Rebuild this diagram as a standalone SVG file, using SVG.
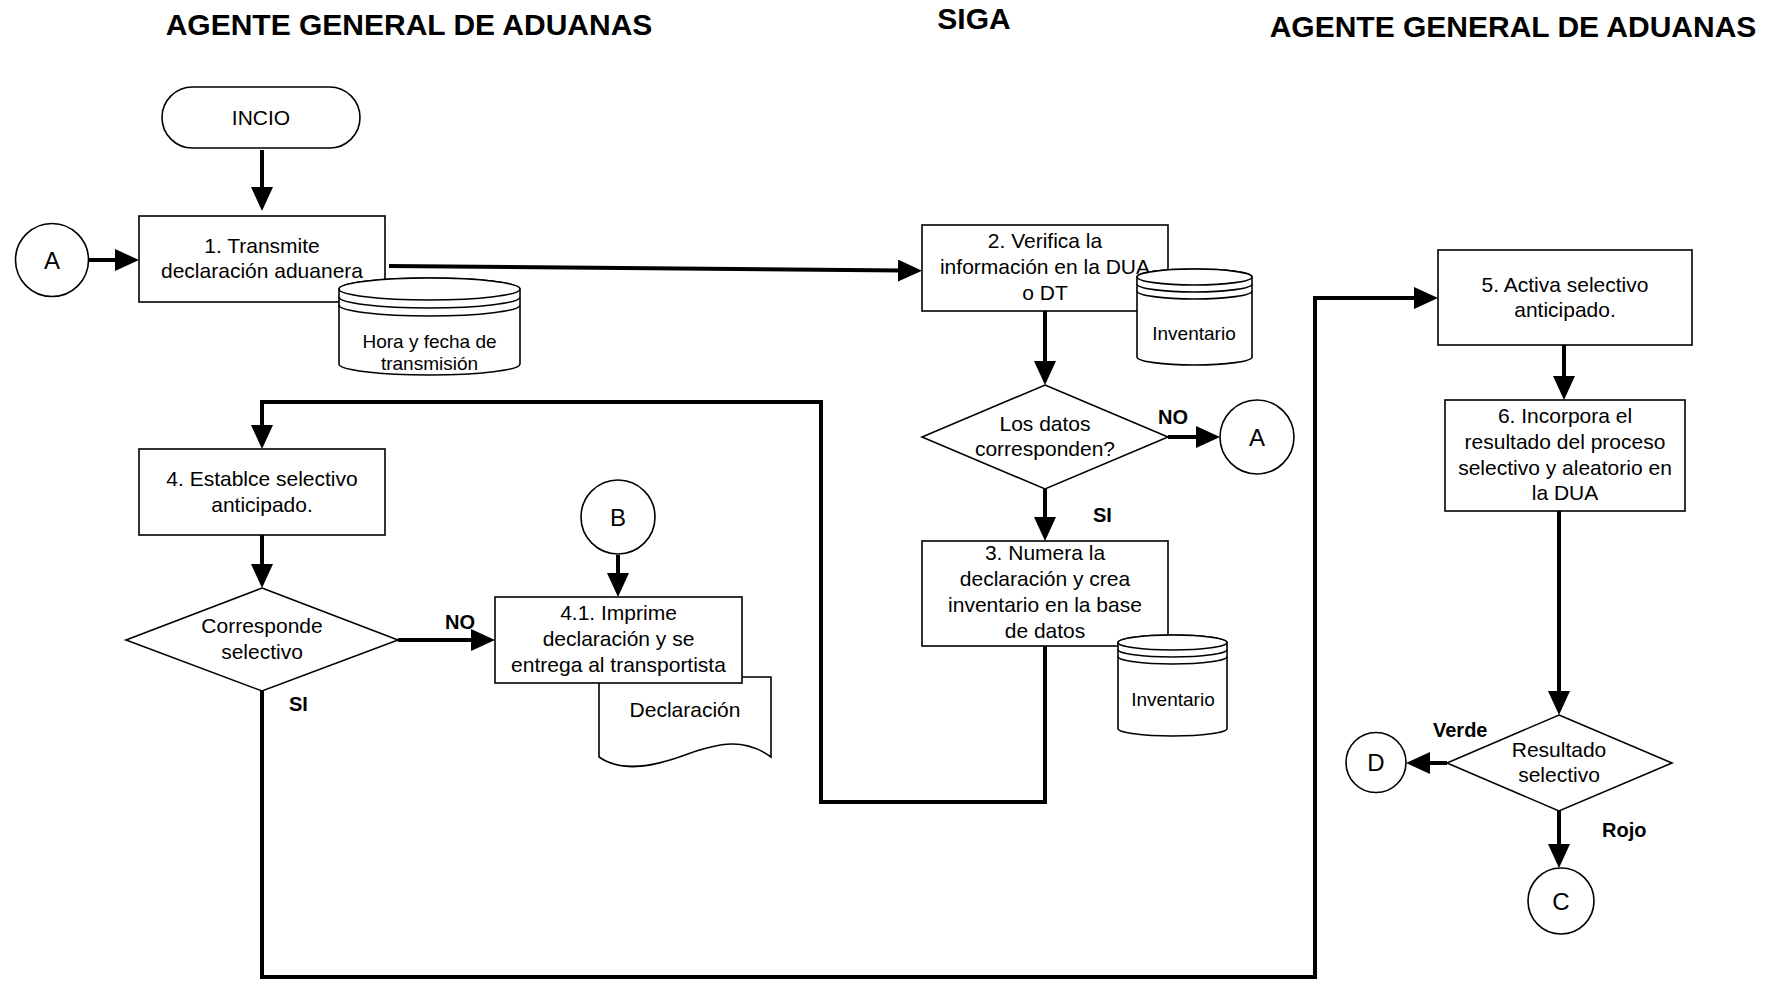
<svg xmlns="http://www.w3.org/2000/svg" width="1776" height="981" viewBox="0 0 1776 981">
<defs>
<style>
.shape{fill:#fff;stroke:#000;stroke-width:1.6}
.line{fill:none;stroke:#000;stroke-width:1.6}
.conn{fill:none;stroke:#000;stroke-width:4;marker-end:url(#arr)}
text{font-family:"Liberation Sans",Arial,Helvetica,sans-serif;fill:#000}
.t{font-size:21px;text-anchor:middle}
.s{font-size:19px;text-anchor:middle}
.c{font-size:24px;text-anchor:middle}
.lbl{font-size:20px;font-weight:bold}
.title{font-size:30px;font-weight:bold;text-anchor:middle}
</style>
<marker id="arr" markerUnits="userSpaceOnUse" markerWidth="24" markerHeight="22" refX="4" refY="11" orient="auto">
<path d="M0,0 L24,11 L0,22 Z" fill="#000"/>
</marker>
</defs>
<rect width="1776" height="981" fill="#fff"/>

<g id="titles">
<text class="title" x="409" y="35">AGENTE GENERAL DE ADUANAS</text>
<text class="title" x="974" y="29">SIGA</text>
<text class="title" x="1513" y="37">AGENTE GENERAL DE ADUANAS</text>
</g>

<g id="connectors">
<path class="conn" d="M262,150 V191"/>
<path class="conn" d="M89,260 H119"/>
<path class="conn" d="M389,266 L902,270.6"/>
<path class="conn" d="M1045,311 V365"/>
<path class="conn" d="M1168,437 H1200"/>
<path class="conn" d="M1045,489 V521"/>
<path class="conn" d="M1045,646 V802 H821 V402 H262 V429"/>
<path class="conn" d="M398,640 H475"/>
<path class="conn" d="M618,555 V577"/>
<path class="conn" d="M262,535 V568"/>
<path class="conn" d="M262,691 V977 H1315 V298 H1418"/>
<path class="conn" d="M1564,345 V380"/>
<path class="conn" d="M1559,511 V695"/>
<path class="conn" d="M1447,763 H1426"/>
<path class="conn" d="M1559,811 V848"/>
</g>

<g id="edge-labels">
<text class="lbl" x="1158" y="424">NO</text>
<text class="lbl" x="1093" y="522">SI</text>
<text class="lbl" x="445" y="629">NO</text>
<text class="lbl" x="289" y="711">SI</text>
<text class="lbl" x="1433" y="737">Verde</text>
<text class="lbl" x="1602" y="837">Rojo</text>
</g>

<g id="inicio">
<rect class="shape" x="162" y="87" width="198" height="61" rx="30.5"/>
<text class="t" x="261" y="125">INCIO</text>
</g>

<g id="conector-a-izq">
<circle class="shape" cx="52" cy="260" r="36.5"/>
<text class="c" x="52" y="269">A</text>
</g>

<g id="paso1">
<rect class="shape" x="139" y="216" width="246" height="86"/>
<text class="t" x="262" y="253">1. Transmite</text>
<text class="t" x="262" y="278">declaración aduanera</text>
</g>

<g id="bd-hora">
<path class="shape" d="M339,289 V364 A90.5,11 0 0 0 520,364 V289 A90.5,11 0 0 0 339,289 Z"/>
<ellipse class="shape" cx="429.5" cy="289" rx="90.5" ry="11"/>
<path class="line" d="M339,297 A90.5,11 0 0 0 520,297 M339,305 A90.5,11 0 0 0 520,305"/>
<text class="s" x="429.5" y="348">Hora y fecha de</text>
<text class="s" x="429.5" y="370">transmisión</text>
</g>

<g id="paso2">
<rect class="shape" x="922" y="225" width="246" height="86"/>
<text class="t" x="1045" y="248">2. Verifica la</text>
<text class="t" x="1045" y="274">información en la DUA</text>
<text class="t" x="1045" y="300">o DT</text>
</g>

<g id="bd-inventario1">
<path class="shape" d="M1137,277 V357 A57.5,8 0 0 0 1252,357 V277 A57.5,8 0 0 0 1137,277 Z"/>
<ellipse class="shape" cx="1194.5" cy="277" rx="57.5" ry="8"/>
<path class="line" d="M1137,284 A57.5,8 0 0 0 1252,284 M1137,291 A57.5,8 0 0 0 1252,291"/>
<text class="s" x="1194" y="340">Inventario</text>
</g>

<g id="decision1">
<path class="shape" d="M1045,385 L1168,437 L1045,489 L922,437 Z"/>
<text class="t" x="1045" y="431">Los datos</text>
<text class="t" x="1045" y="456">corresponden?</text>
</g>

<g id="conector-a-der">
<circle class="shape" cx="1257" cy="437" r="37"/>
<text class="c" x="1257" y="446">A</text>
</g>

<g id="paso3">
<rect class="shape" x="922" y="541" width="246" height="105"/>
<text class="t" x="1045" y="560">3. Numera la</text>
<text class="t" x="1045" y="586">declaración y crea</text>
<text class="t" x="1045" y="612">inventario en la base</text>
<text class="t" x="1045" y="638">de datos</text>
</g>

<g id="bd-inventario2">
<path class="shape" d="M1118,642.5 V728.5 A54.5,7.5 0 0 0 1227,728.5 V642.5 A54.5,7.5 0 0 0 1118,642.5 Z"/>
<ellipse class="shape" cx="1172.5" cy="642.5" rx="54.5" ry="7.5"/>
<path class="line" d="M1118,649.5 A54.5,7.5 0 0 0 1227,649.5 M1118,656.5 A54.5,7.5 0 0 0 1227,656.5"/>
<text class="s" x="1173" y="706">Inventario</text>
</g>

<g id="paso4">
<rect class="shape" x="139" y="449" width="246" height="86"/>
<text class="t" x="262" y="486">4. Establce selectivo</text>
<text class="t" x="262" y="512">anticipado.</text>
</g>

<g id="decision2">
<path class="shape" d="M262,588 L398,640 L262,691 L126,640 Z"/>
<text class="t" x="262" y="633">Corresponde</text>
<text class="t" x="262" y="659">selectivo</text>
</g>

<g id="conector-b">
<circle class="shape" cx="618" cy="517" r="37"/>
<text class="c" x="618" y="526">B</text>
</g>

<g id="doc-declaracion">
<path class="shape" d="M599,677 H771 V757 C745,738 720,742 685,755 C650,768 620,772 599,757 Z"/>
<text class="t" x="685" y="717">Declaración</text>
</g>

<g id="paso4-1">
<rect class="shape" x="495" y="597" width="247" height="86"/>
<text class="t" x="618.5" y="620">4.1.  Imprime</text>
<text class="t" x="618.5" y="646">declaración y se</text>
<text class="t" x="618.5" y="672">entrega al transportista</text>
</g>

<g id="paso5">
<rect class="shape" x="1438" y="250" width="254" height="95"/>
<text class="t" x="1565" y="292">5. Activa selectivo</text>
<text class="t" x="1565" y="317">anticipado.</text>
</g>

<g id="paso6">
<rect class="shape" x="1445" y="400" width="240" height="111"/>
<text class="t" x="1565" y="423">6. Incorpora el</text>
<text class="t" x="1565" y="449">resultado del proceso</text>
<text class="t" x="1565" y="475">selectivo y aleatorio en</text>
<text class="t" x="1565" y="500">la DUA</text>
</g>

<g id="decision3">
<path class="shape" d="M1559,715 L1672,763 L1559,811 L1447,763 Z"/>
<text class="t" x="1559" y="757">Resultado</text>
<text class="t" x="1559" y="782">selectivo</text>
</g>

<g id="conector-d">
<circle class="shape" cx="1376" cy="762.5" r="30"/>
<text class="c" x="1376" y="771">D</text>
</g>

<g id="conector-c">
<circle class="shape" cx="1561" cy="901" r="33"/>
<text class="c" x="1561" y="910">C</text>
</g>
</svg>
